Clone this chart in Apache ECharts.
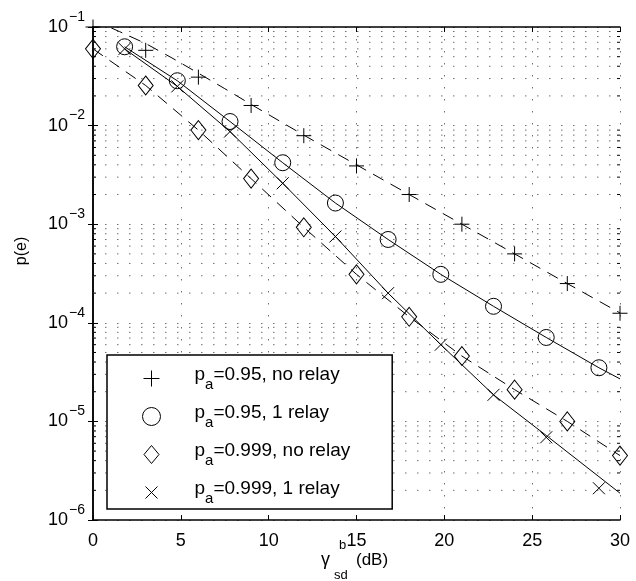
<!DOCTYPE html>
<html>
<head>
<meta charset="utf-8">
<script src="https://cdn.jsdelivr.net/npm/echarts@6/dist/echarts.min.js"></script>
<style>
html, body { margin: 0; padding: 0; background: #fff; }
#chart { width: 636px; height: 581px; }
</style>
</head>
<body>
<div id="chart"></div>
<script>
// simulated points (markers)
var snrNoRelay = [0, 3, 6, 9, 12, 15, 18, 21, 24, 27, 30];
var snrRelay = [1.8, 4.8, 7.8, 10.8, 13.8, 16.8, 19.8, 22.8, 25.8, 28.8];
var simNoRelay95 = [1.0e-1, 5.8e-2, 3.1e-2, 1.6e-2, 7.9e-3, 3.9e-3, 2.0e-3, 1.0e-3, 5.0e-4, 2.5e-4, 1.25e-4];
var simRelay95 = [6.3e-2, 2.85e-2, 1.1e-2, 4.2e-3, 1.64e-3, 7.0e-4, 3.1e-4, 1.47e-4, 7.1e-5, 3.5e-5];
var simNoRelay999 = [6.0e-2, 2.55e-2, 9.0e-3, 2.9e-3, 9.3e-4, 3.1e-4, 1.15e-4, 4.6e-5, 2.1e-5, 1.0e-5, 4.5e-6];
var simRelay999 = [6.0e-2, 2.5e-2, 8.7e-3, 2.6e-3, 7.5e-4, 2.0e-4, 6.0e-5, 1.86e-5, 6.9e-6, 2.1e-6];

// analytical curves (lines)
var curveSnrNoRelay95 = [0, 1.5, 3, 4.5, 6, 7.5, 9, 12, 15, 18, 21, 24, 27, 30];
var curveNoRelay95 = [1.18e-1, 9.0e-2, 6.8e-2, 4.85e-2, 3.4e-2, 2.37e-2, 1.64e-2, 8.0e-3, 4.0e-3, 2.0e-3, 1.0e-3, 5.0e-4, 2.5e-4, 1.26e-4];
var curveSnrRelay = [1.8, 4.8, 7.8, 10.8, 13.8, 16.8, 19.8, 22.8, 25.8, 28.8, 30];
var curveRelay95 = [6.3e-2, 2.85e-2, 1.1e-2, 4.2e-3, 1.64e-3, 7.0e-4, 3.1e-4, 1.47e-4, 7.1e-5, 3.5e-5, 2.7e-5];
var curveSnrNoRelay999 = [0, 3, 6, 9, 12, 15, 18, 21, 24, 27, 30];
var curveNoRelay999 = [6.0e-2, 2.55e-2, 9.0e-3, 2.9e-3, 9.3e-4, 3.1e-4, 1.15e-4, 4.6e-5, 2.1e-5, 1.0e-5, 4.5e-6];
var curveRelay999 = [6.0e-2, 2.5e-2, 8.7e-3, 2.6e-3, 7.5e-4, 2.0e-4, 6.0e-5, 1.86e-5, 7.2e-6, 2.75e-6, 1.87e-6];

var legendNames = ['p_a=0.95, no relay', 'p_a=0.95, 1 relay', 'p_a=0.999, no relay', 'p_a=0.999, 1 relay'];
var decades = [1e-6, 1e-5, 1e-4, 1e-3, 1e-2];
var minorMult = [2, 3, 4, 5, 6, 7, 8, 9];

var minorTicks = [];
decades.forEach(function (d) {
	minorMult.forEach(function (m) { minorTicks.push(m * d); });
});

var FONT = 'Liberation Sans, Arial, sans-serif';
var gridColor = '#6f6f6f';
var dotDash = [1.5, 10.5];

var plusPath = 'path://M0,8L16,8M8,0L8,16';
var crossPath = 'path://M0,0L12,12M12,0L0,12';
// padded versions for the legend (zero-length corners widen the bbox)
var plusIcon = 'path://M0,0L0,0M18,18L18,18M1,9L17,9M9,1L9,17';
var crossIcon = 'path://M0,0L0,0M18,18L18,18M3,3L15,15M15,3L3,15';
var diamondIcon = 'path://M0,0L0,0M18,18L18,18M9,0L16.5,9L9,18L1.5,9Z';

function pairs(xs, ys) {
	return xs.map(function (x, i) { return [x, ys[i]]; });
}

var markerStyle = { color: 'rgba(0,0,0,0)', borderColor: '#000', borderWidth: 1, opacity: 1 };

function curve(name, xs, ys, dashed) {
	return {
		name: name,
		type: 'line',
		data: pairs(xs, ys),
		symbol: 'none',
		silent: true,
		z: 3,
		lineStyle: { color: '#000', width: 1, type: dashed ? [12, 8] : 'solid' }
	};
}

function marks(name, xs, ys, symbol, size) {
	return {
		name: name,
		type: 'scatter',
		data: pairs(xs, ys),
		symbol: symbol,
		symbolSize: size,
		silent: true,
		z: 4,
		itemStyle: markerStyle
	};
}

function renderMinorGrid(params, api) {
	var cs = params.coordSys;
	var y = api.coord([0, api.value(1)])[1];
	return {
		type: 'group',
		children: [
			{ type: 'line', shape: { x1: cs.x, y1: y, x2: cs.x + cs.width, y2: y }, style: { stroke: gridColor, lineWidth: 1, lineDash: dotDash } },
			{ type: 'line', shape: { x1: cs.x, y1: y, x2: cs.x + 3, y2: y }, style: { stroke: '#000', lineWidth: 1 } },
			{ type: 'line', shape: { x1: cs.x + cs.width - 3, y1: y, x2: cs.x + cs.width, y2: y }, style: { stroke: '#000', lineWidth: 1 } }
		]
	};
}

function legendText(name) {
	var parts = name.split('_');
	var rest = parts[1].slice(1);
	return '{sp| }{m|' + parts[0] + '}{s|' + parts[1].charAt(0) + '}{m|' + rest + '}';
}

var chart = echarts.init(document.getElementById('chart'));

var axisLine = { show: true, lineStyle: { color: '#000', width: 1.5 } };

var option = {
	animation: false,
	backgroundColor: '#fff',
	textStyle: { fontFamily: FONT },
	grid: { left: 93, right: 16, top: 27, bottom: 61, outerBoundsMode: 'none' },
	xAxis: [
		{
			type: 'value', min: 0, max: 30, interval: 5, position: 'bottom',
			axisLine: axisLine,
			axisTick: { inside: true, length: 5, lineStyle: { color: '#000', width: 1 } },
			axisLabel: { color: '#000', fontSize: 18, fontFamily: FONT, margin: 12 },
			splitLine: { show: true, lineStyle: { color: gridColor, width: 1, type: dotDash } }
		},
		{
			type: 'value', min: 0, max: 30, interval: 5, position: 'top',
			axisLine: axisLine,
			axisTick: { inside: true, length: 5, lineStyle: { color: '#000', width: 1 } },
			axisLabel: { show: false },
			splitLine: { show: false }
		}
	],
	yAxis: [
		{
			type: 'log', logBase: 10, min: 1e-6, max: 1e-1, position: 'left',
			axisLine: axisLine,
			axisTick: { inside: true, length: 5, lineStyle: { color: '#000', width: 1 } },
			axisLabel: {
				color: '#000', margin: 8,
				formatter: function (v) {
					var e = Math.round(Math.log10(v));
					return '{b|10}{s|' + (e < 0 ? '\u2212' : '') + Math.abs(e) + '}';
				},
				rich: {
					b: { fontSize: 18, fontFamily: FONT, color: '#000' },
					s: { fontSize: 14, fontFamily: FONT, color: '#000', padding: [0, 0, 20, 1] }
				}
			},
			splitLine: { show: true, lineStyle: { color: gridColor, width: 1, type: dotDash } }
		},
		{
			type: 'log', logBase: 10, min: 1e-6, max: 1e-1, position: 'right',
			axisLine: axisLine,
			axisTick: { inside: true, length: 5, lineStyle: { color: '#000', width: 1 } },
			axisLabel: { show: false },
			splitLine: { show: false }
		}
	],
	legend: {
		orient: 'vertical',
		left: 107,
		top: 355,
		padding: [10, 42, 3, 35],
		itemGap: 11,
		itemWidth: 18,
		itemHeight: 18,
		backgroundColor: '#fff',
		borderColor: '#000',
		borderWidth: 1.5,
		borderRadius: 0,
		z: 10,
		selectedMode: false,
		itemStyle: { color: 'rgba(0,0,0,0)', borderColor: '#000', borderWidth: 1 },
		data: [
			{ name: legendNames[0], icon: plusIcon },
			{ name: legendNames[1], icon: 'circle' },
			{ name: legendNames[2], icon: diamondIcon },
			{ name: legendNames[3], icon: crossIcon }
		],
		formatter: legendText,
		textStyle: {
			color: '#000',
			rich: {
				sp: { width: 29, fontSize: 19 },
				m: { fontSize: 19, fontFamily: FONT, color: '#000', verticalAlign: 'top' },
				s: { fontSize: 15, fontFamily: FONT, color: '#000', verticalAlign: 'top', padding: [12, 0, 0, 0] }
			}
		}
	},
	graphic: [
		{ type: 'text', x: 22, y: 251, rotation: Math.PI / 2, style: { text: 'p(e)', font: '16px ' + FONT, fill: '#000', align: 'center', verticalAlign: 'middle' } },
		{ type: 'text', x: 321, y: 560, style: { text: '\u03b3', font: '18px ' + FONT, fill: '#000', align: 'left', verticalAlign: 'middle' } },
		{ type: 'text', x: 339, y: 545, style: { text: 'b', font: '13px ' + FONT, fill: '#000', align: 'left', verticalAlign: 'middle' } },
		{ type: 'text', x: 334, y: 575, style: { text: 'sd', font: '13px ' + FONT, fill: '#000', align: 'left', verticalAlign: 'middle' } },
		{ type: 'text', x: 356, y: 560, style: { text: '(dB)', font: '17px ' + FONT, fill: '#000', align: 'left', verticalAlign: 'middle' } }
	],
	series: [
		{
			name: 'minor-grid',
			type: 'custom',
			silent: true,
			z: 1,
			renderItem: renderMinorGrid,
			data: minorTicks.map(function (v) { return [0, v]; })
		},
		curve('curve-95-norelay', curveSnrNoRelay95, curveNoRelay95, true),
		curve('curve-95-relay', curveSnrRelay, curveRelay95, false),
		curve('curve-999-norelay', curveSnrNoRelay999, curveNoRelay999, true),
		curve('curve-999-relay', curveSnrRelay, curveRelay999, false),
		marks(legendNames[0], snrNoRelay, simNoRelay95, plusPath, 15),
		marks(legendNames[1], snrRelay, simRelay95, 'circle', 16),
		marks(legendNames[2], snrNoRelay, simNoRelay999, 'diamond', [15, 19]),
		marks(legendNames[3], snrRelay, simRelay999, crossPath, 12)
	]
};

chart.setOption(option);
</script>
</body>
</html>
